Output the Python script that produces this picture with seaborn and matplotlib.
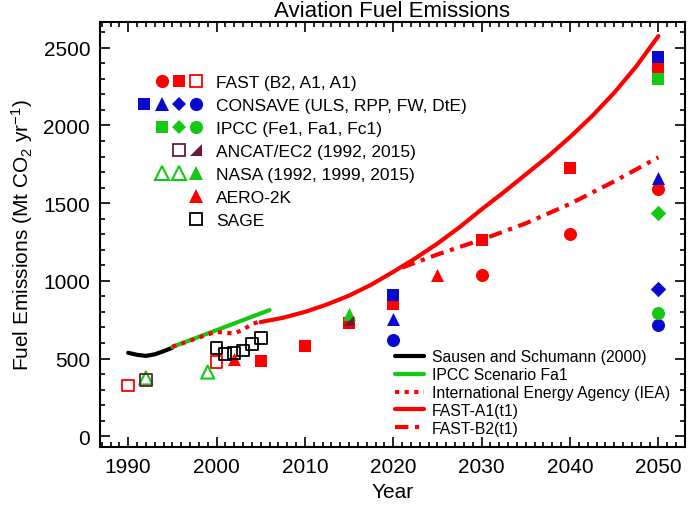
import numpy as np
import pandas as pd
import matplotlib
matplotlib.use("Agg")
import matplotlib.pyplot as plt
import seaborn as sns
from matplotlib.lines import Line2D
from matplotlib.legend_handler import HandlerTuple
from matplotlib.path import Path
from matplotlib.ticker import MultipleLocator

# ---------------- data ----------------
sausen_years = [1990, 1991, 1992, 1993, 1994, 1995]
sausen_vals = [537, 524, 517, 527, 547, 570]
ipcc_fa1_years = [1995, 2006]
ipcc_fa1_vals = [575, 812]
iea_years = [1995, 1997, 1999, 2000, 2001, 2002, 2003, 2004, 2005]
iea_vals = [576, 615, 655, 672, 665, 662, 685, 722, 740]
fast_a1_years = [2005, 2007.5, 2010, 2012.5, 2015, 2017.5, 2020, 2022.5, 2025, 2027.5,
                 2030, 2032.5, 2035, 2037.5, 2040, 2042.5, 2045, 2047.5, 2050]
fast_a1_vals = [735, 762, 800, 848, 905, 975, 1058, 1145, 1240, 1345,
                1460, 1570, 1685, 1800, 1925, 2060, 2210, 2380, 2575]
fast_b2_years = [2021, 2025, 2030, 2035, 2040, 2045, 2050]
fast_b2_vals = [1085, 1170, 1265, 1370, 1495, 1640, 1795]

fast_b2_pt_years = [2030, 2040, 2050]
fast_b2_pt_vals = [1039, 1303, 1593]
fast_a1_pt_years = [2005, 2010, 2015, 2020, 2030, 2040, 2050]
fast_a1_pt_vals = [481, 580, 730, 853, 1260, 1726, 2370]
fast_a1_open_years = [1990, 2000]
fast_a1_open_vals = [327, 477]

consave_uls_years = [2020, 2050]
consave_uls_vals = [906, 2440]
consave_rpp_years = [2020, 2050]
consave_rpp_vals = [755, 1660]
consave_fw_years = [2050]
consave_fw_vals = [949]
consave_dte_years = [2020, 2050]
consave_dte_vals = [621, 717]

ipcc_fe1_years = [2050]
ipcc_fe1_vals = [2300]
ipcc_fa1_pt_years = [2050]
ipcc_fa1_pt_vals = [1438]
ipcc_fc1_years = [2050]
ipcc_fc1_vals = [795]

ancat_1992_years = [1992]
ancat_1992_vals = [360]
ancat_2015_years = [2015]
ancat_2015_vals = [740]

nasa_open_years = [1992, 1999]
nasa_open_vals = [375, 413]
nasa_2015_years = [2015]
nasa_2015_vals = [788]

aero2k_years = [2002, 2025]
aero2k_vals = [500, 1040]

sage_years = [2000, 2001, 2002, 2003, 2004, 2005]
sage_vals = [567, 531, 535, 552, 595, 634]

# ---------------- style ----------------
sns.set_style("ticks")
plt.rcParams['font.family'] = ['Liberation Sans', 'DejaVu Sans']
plt.rcParams['mathtext.default'] = 'regular'
plt.rcParams['text.color'] = 'black'
plt.rcParams['axes.labelcolor'] = 'black'
plt.rcParams['xtick.color'] = 'black'
plt.rcParams['ytick.color'] = 'black'
plt.rcParams['axes.edgecolor'] = 'black'

RED = '#FF0000'
BLUE = '#0A0ACC'
GREEN = '#14C814'
MAROON = '#6B1A38'
BLACK = '#000000'

tri_corner = Path([(-1, -1), (1, -1), (1, 1), (-1, -1)],
                  [Path.MOVETO, Path.LINETO, Path.LINETO, Path.CLOSEPOLY])

fig = plt.figure(figsize=(6.89, 5.06), dpi=100)
ax = fig.add_axes([0.145, 0.115, 0.849, 0.84])

lw = 3
sns.lineplot(x=sausen_years, y=sausen_vals, ax=ax, color=BLACK, lw=lw, sort=False,
             label='Sausen and Schumann (2000)')
sns.lineplot(x=ipcc_fa1_years, y=ipcc_fa1_vals, ax=ax, color=GREEN, lw=lw, sort=False,
             label='IPCC Scenario Fa1')
sns.lineplot(x=iea_years, y=iea_vals, ax=ax, color=RED, lw=lw, sort=False,
             linestyle=(0, (1.0, 1.3)), label='International Energy Agency (IEA)')
sns.lineplot(x=fast_a1_years, y=fast_a1_vals, ax=ax, color=RED, lw=lw, sort=False,
             label='FAST-A1(t1)')
sns.lineplot(x=fast_b2_years, y=fast_b2_vals, ax=ax, color=RED, lw=lw, sort=False,
             linestyle=(0, (3.2, 1.6, 1.0, 1.6)), label='FAST-B2(t1)')

line_handles, line_labels = ax.get_legend_handles_labels()
if ax.get_legend() is not None:
    ax.get_legend().remove()


def pts(x, y, marker, s, face, edge, lwid=0.0, z=3):
    sns.scatterplot(x=x, y=y, ax=ax, marker=marker, s=s, color=face,
                    edgecolor=edge, linewidth=lwid, zorder=z, legend=False)


S_SQ = 72
S_CI = 88
S_DI = 62
S_TR = 88

pts(fast_b2_pt_years, fast_b2_pt_vals, 'o', S_CI, RED, RED)
pts(fast_a1_pt_years, fast_a1_pt_vals, 's', S_SQ, RED, RED)
pts(fast_a1_open_years, fast_a1_open_vals, 's', S_SQ, 'none', RED, 1.3)
pts(consave_uls_years, consave_uls_vals, 's', S_SQ, BLUE, BLUE)
pts(consave_rpp_years, consave_rpp_vals, '^', S_TR, BLUE, BLUE)
pts(consave_fw_years, consave_fw_vals, 'D', S_DI, BLUE, BLUE)
pts(consave_dte_years, consave_dte_vals, 'o', S_CI, BLUE, BLUE)
pts(ipcc_fe1_years, ipcc_fe1_vals, 's', S_SQ, GREEN, GREEN)
pts(ipcc_fa1_pt_years, ipcc_fa1_pt_vals, 'D', S_DI, GREEN, GREEN)
pts(ipcc_fc1_years, ipcc_fc1_vals, 'o', S_CI, GREEN, GREEN)
pts(nasa_open_years, nasa_open_vals, '^', S_TR, 'none', GREEN, 1.5)
pts(nasa_2015_years, nasa_2015_vals, '^', S_TR, GREEN, GREEN)
pts(ancat_1992_years, ancat_1992_vals, 's', S_SQ, 'none', MAROON, 1.3)
pts(ancat_2015_years, ancat_2015_vals, tri_corner, 55, MAROON, MAROON, z=4)
pts(aero2k_years, aero2k_vals, '^', S_TR, RED, RED)
pts(sage_years, sage_vals, 's', S_SQ, 'none', BLACK, 1.3)

# ---------------- axes ----------------
ax.set_xlim(1986.8, 2053.0)
ax.set_ylim(-68, 2667)
ax.xaxis.set_major_locator(MultipleLocator(10))
ax.xaxis.set_minor_locator(MultipleLocator(1))
ax.yaxis.set_major_locator(MultipleLocator(500))
ax.yaxis.set_minor_locator(MultipleLocator(100))
ax.tick_params(which='both', direction='in', top=True, right=True, width=1.2,
               labelsize=15, pad=7, color='black', labelcolor='black')
ax.tick_params(which='major', length=7)
ax.tick_params(which='minor', length=3.5)
for sp in ax.spines.values():
    sp.set_linewidth(1.5)
    sp.set_visible(True)
    sp.set_color('black')

ax.set_title('Aviation Fuel Emissions', fontsize=16, pad=4)
ax.set_xlabel('Year', fontsize=15, labelpad=5)
ax.set_ylabel('Fuel Emissions (Mt CO$_2$ yr$^{-1}$)', fontsize=15, labelpad=6)

# ---------------- legends ----------------
def mk(marker, face, edge=None, ms=8.5, mew=0.0):
    return Line2D([], [], linestyle='none', marker=marker, markersize=ms,
                  markerfacecolor=face, markeredgecolor=edge if edge else face,
                  markeredgewidth=mew)

blank = Line2D([], [], linestyle='none')

marker_entries = [
    ((blank, mk('o', RED, ms=9.5), mk('s', RED), mk('s', 'none', RED, mew=1.3)),
     'FAST (B2, A1, A1)'),
    ((mk('s', BLUE), mk('^', BLUE, ms=9.5), mk('D', BLUE, ms=7), mk('o', BLUE, ms=9.5)),
     'CONSAVE (ULS, RPP, FW, DtE)'),
    ((blank, mk('s', GREEN), mk('D', GREEN, ms=7), mk('o', GREEN, ms=9.5)),
     'IPCC (Fe1, Fa1, Fc1)'),
    ((blank, blank, mk('s', 'none', MAROON, mew=1.3), mk(tri_corner, MAROON, ms=8)),
     'ANCAT/EC2 (1992, 2015)'),
    ((blank, mk('^', 'none', GREEN, ms=9.5, mew=1.5), mk('^', 'none', GREEN, ms=9.5, mew=1.5),
      mk('^', GREEN, ms=9.5)),
     'NASA (1992, 1999, 2015)'),
    ((blank, blank, blank, mk('^', RED, ms=9.5)), 'AERO-2K'),
    ((blank, blank, blank, mk('s', 'none', BLACK, mew=1.3)), 'SAGE'),
]

leg1 = ax.legend([h for h, _ in marker_entries], [l for _, l in marker_entries],
                 handler_map={tuple: HandlerTuple(ndivide=4, pad=0.0)},
                 loc='upper left', bbox_to_anchor=(0.061, 0.874),
                 frameon=False, fontsize=12.5, handlelength=4.0, handletextpad=0.65,
                 labelspacing=0.45, borderpad=0, borderaxespad=0)
ax.add_artist(leg1)

ax.legend(line_handles, line_labels, loc='lower left',
          bbox_to_anchor=(0.504, 0.026), frameon=False, fontsize=11.3,
          handlelength=1.85, handletextpad=0.5, labelspacing=0.18,
          borderpad=0, borderaxespad=0)

fig.savefig('out.png', dpi=100)
